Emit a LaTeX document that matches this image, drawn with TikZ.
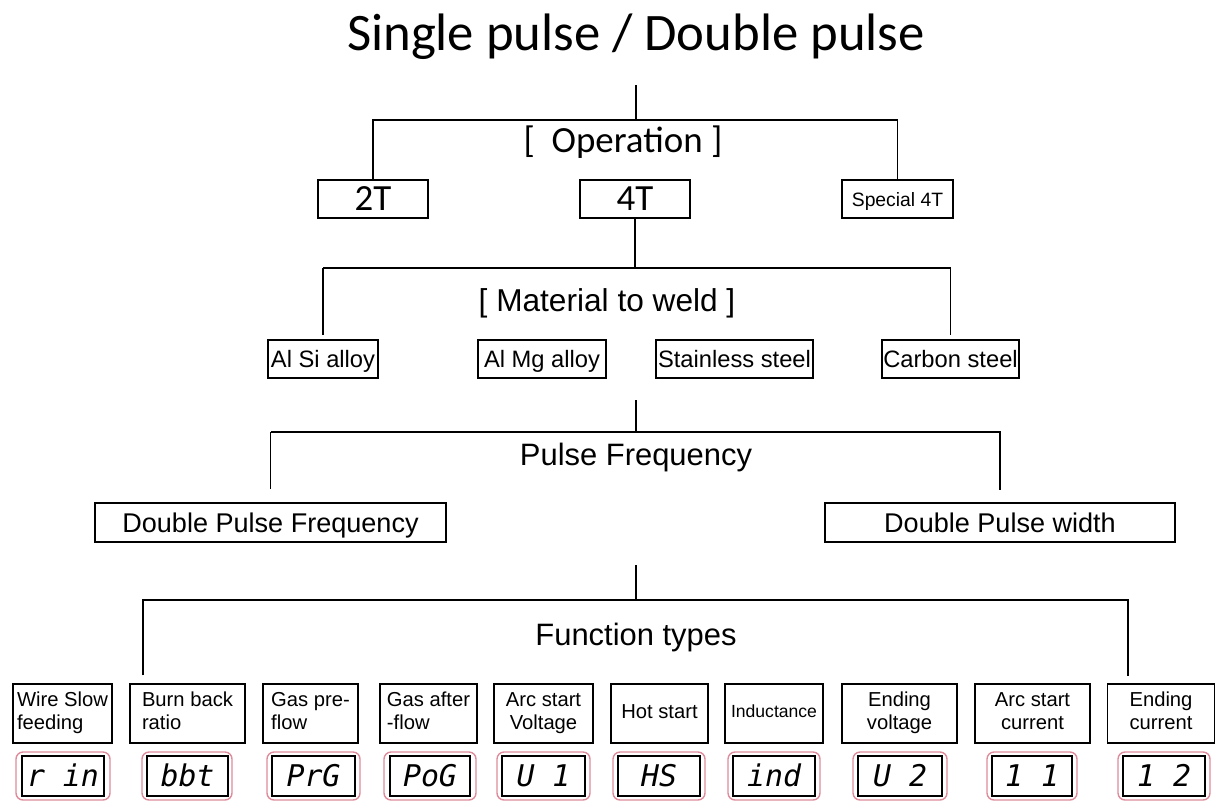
\documentclass[tikz,border=0pt]{standalone}
\usepackage{fontspec}
\setmainfont{Liberation Sans}
\newfontfamily\calfont{Carlito}
\newfontfamily\segfont{DejaVu Sans Mono}
\usepackage{tikz}
\definecolor{dispred}{RGB}{222,140,155}

\begin{document}
\begin{tikzpicture}[x=0.02cm, y=-0.02cm, line width=0.8pt,
	box/.style={draw, inner sep=0pt, align=center, text depth=0pt, execute at begin node=\vphantom{A}},
	sz/.style 2 args={minimum width=#1*0.02cm, minimum height=#2*0.02cm},
	fbox/.style={draw, inner sep=0pt, align=center, font=\fontsize{11.5}{13}\selectfont},
	dispout/.style={draw=dispred, rounded corners=4pt, minimum height=48*0.02cm},
	dispin/.style={draw, inner sep=0pt, minimum height=40*0.02cm, text height=12.8pt, text depth=0.85pt, font=\fontsize{17}{20}\segfont\itshape}]
	\useasboundingbox (0,0) rectangle (1216,801);

	% mode and operation
	\node[anchor=base, font=\fontsize{30}{36}\calfont] (title) at (636,51) {Single pulse / Double pulse};
	\node[anchor=base, font=\fontsize{21}{25}\calfont] (oper) at (623,152) {[\ \ Operation ]};
	\node[box, sz={110}{38}, font=\fontsize{21}{25}\calfont] (2T) at (373,199) {2T};
	\node[box, sz={110}{38}, font=\fontsize{21}{25}\calfont] (4T) at (635,199) {4T};
	\node[box, sz={111}{38}, font=\fontsize{11}{13}\selectfont] (sp4T) at (897.5,199) {Special 4T};
	\coordinate (optop) at (636,85);
	\coordinate (opR) at (897.5,120);
	\draw (optop) -- (optop |- opR);
	\draw (2T.north) |- (opR) -- (sp4T.north);

	% material
	\node[anchor=base, font=\fontsize{18}{22}\selectfont] (mat) at (607,311) {[ Material to weld ]};
	\node[box, sz={110}{38}, font=\fontsize{13.5}{16}\selectfont] (AlSi) at (323,359) {Al Si alloy};
	\node[box, sz={128}{38}, font=\fontsize{13.5}{16}\selectfont] (AlMg) at (542,359) {Al Mg alloy};
	\node[box, sz={157}{38}, font=\fontsize{13.5}{16}\selectfont] (stain) at (734.5,359) {Stainless steel};
	\node[box, sz={137}{38}, font=\fontsize{13.5}{16}\selectfont] (carbon) at (950.5,359) {Carbon steel};
	\coordinate (matbus) at (636,268);
	\draw (4T.south) -- (4T.south |- matbus);
	\draw[shorten >=0.08cm] (AlSi.north |- matbus) -- (carbon.north |- matbus) -- (carbon.north);
	\draw[shorten >=0.08cm] (AlSi.north |- matbus) -- (AlSi.north);

	% pulse
	\node[anchor=base, font=\fontsize{17.6}{21}\selectfont] (pulse) at (636,465) {Pulse Frequency};
	\node[box, sz={351}{39}, font=\fontsize{15.4}{18}\selectfont] (dpf) at (270.5,522.5) {Double Pulse Frequency};
	\node[box, sz={350}{39}, font=\fontsize{15.4}{18}\selectfont] (dpw) at (1000,522.5) {Double Pulse width};
	\coordinate (pultop) at (636,400);
	\coordinate (pulbus) at (636,432);
	\draw (pultop) -- (pulbus);
	\draw[shorten >=0.24cm] (dpf.north |- pulbus) -- (dpw.north |- pulbus) -- (dpw.north);
	\draw[shorten >=0.26cm] (dpf.north |- pulbus) -- (dpf.north);

	% function types
	\node[anchor=base, font=\fontsize{17.6}{21}\selectfont] (func) at (636,645) {Function types};
	\node[fbox, sz={99}{59}, align=left] (wire) at (62.5,713.5) {Wire Slow\strut\\feeding\strut};
	\node[fbox, sz={115}{59}, align=left] (burn) at (187.5,713.5) {Burn back\strut\\ratio\strut};
	\node[fbox, sz={95}{59}, align=left] (gpre) at (310.5,713.5) {Gas pre-\strut\\flow\strut};
	\node[fbox, sz={97}{59}, align=left] (gafter) at (428.5,713.5) {Gas after\strut\\-flow\strut};
	\node[fbox, sz={99}{59}] (arcv) at (543.5,713.5) {Arc start\strut\\Voltage\strut};
	\node[fbox, sz={97}{59}] (hot) at (659.5,713.5) {Hot start\strut};
	\node[fbox, sz={98}{59}, font=\fontsize{10}{12}\selectfont] (induc) at (774,713.5) {Inductance\strut};
	\node[fbox, sz={115}{59}] (endv) at (899.5,713.5) {Ending\strut\\voltage\strut};
	\node[fbox, sz={115}{59}] (arci) at (1032.5,713.5) {Arc start\strut\\current\strut};
	\node[fbox, sz={107}{59}] (endi) at (1161,713.5) {Ending\strut\\current\strut};
	\coordinate (fntop) at (636,565);
	\coordinate (fnL) at (143,600);
	\coordinate (fnR) at (1128,600);
	\draw (fntop) -- (fntop |- fnL);
	\draw (fnL |- burn.north) ++(0,-8) -- (fnL) -- (fnR) -- ++(0,76);

	% displays
	\node[dispout, minimum width=94*0.02cm] (d1o) at (63,776) {};
	\node[dispin, minimum width=82*0.02cm] (d1) at (63,776) {r in};
	\node[dispout, minimum width=90*0.02cm] (d2o) at (187,776) {};
	\node[dispin, minimum width=81*0.02cm] (d2) at (187.5,776) {bbt};
	\node[dispout, minimum width=93*0.02cm] (d3o) at (313.5,776) {};
	\node[dispin, minimum width=83*0.02cm] (d3) at (313.5,776) {PrG};
	\node[dispout, minimum width=92*0.02cm] (d4o) at (430,776) {};
	\node[dispin, minimum width=80*0.02cm] (d4) at (430,776) {PoG};
	\node[dispout, minimum width=93*0.02cm] (d5o) at (543.5,776) {};
	\node[dispin, minimum width=83*0.02cm] (d5) at (543.5,776) {U 1};
	\node[dispout, minimum width=92*0.02cm] (d6o) at (659,776) {};
	\node[dispin, minimum width=82*0.02cm] (d6) at (659,776) {HS};
	\node[dispout, minimum width=92*0.02cm] (d7o) at (774,776) {};
	\node[dispin, minimum width=82*0.02cm] (d7) at (774,776) {ind};
	\node[dispout, minimum width=94*0.02cm] (d8o) at (900,776) {};
	\node[dispin, minimum width=84*0.02cm] (d8) at (900,776) {U 2};
	\node[dispout, minimum width=90*0.02cm] (d9o) at (1032,776) {};
	\node[dispin, minimum width=80*0.02cm] (d9) at (1032,776) {1 1};
	\node[dispout, minimum width=92*0.02cm] (d10o) at (1164,776) {};
	\node[dispin, minimum width=82*0.02cm] (d10) at (1164,776) {1 2};
\end{tikzpicture}
\end{document}
